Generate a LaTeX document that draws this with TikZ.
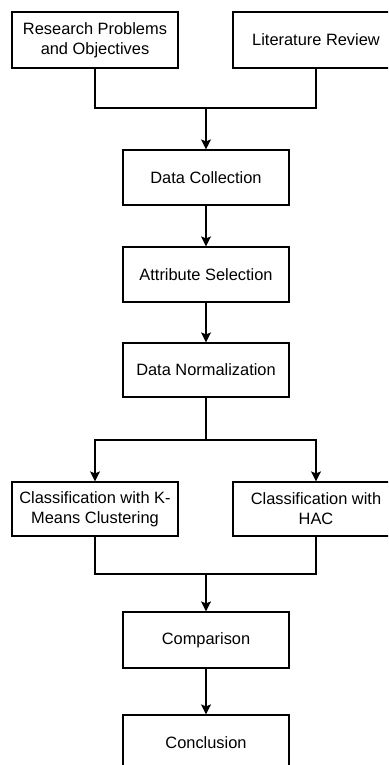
\documentclass[tikz,border=0pt]{standalone}
\usepackage{fontspec}
\setmainfont{Liberation Sans}
\usetikzlibrary{arrows.meta}
\begin{document}
\begin{tikzpicture}[x=1pt,y=-1pt,
  box/.style={draw, line width=1.2pt, minimum width=166pt, minimum height=55pt, inner sep=0pt, align=center, font=\fontsize{16.4}{20}\selectfont},
  conn/.style={line width=1.2pt},
  arr/.style={conn,-{Stealth[length=10pt,width=10pt,inset=2pt]}}]
\useasboundingbox (0,0) rectangle (388,765);
\clip (0,0) rectangle (388,765);
\node[box, minimum height=56pt] (rp) at (95,40) {Research Problems\\and Objectives};
\node[box, minimum height=56pt] (lr) at (316,40) {Literature Review};
\node[box] (dc) at (206,177.5) {Data Collection};
\node[box] (as) at (206,274.5) {Attribute Selection};
\node[box, minimum height=54pt] (dn) at (206,370) {Data Normalization};
\node[box, minimum height=54pt] (km) at (95,509) {Classification with K-\\Means Clustering};
\node[box, minimum height=54pt] (hac) at (316,509) {Classification with\\HAC};
\node[box, minimum height=56pt] (cmp) at (206,640) {Comparison};
\node[box] (con) at (206,742.5) {Conclusion};
\coordinate (j1) at (206,108);
\coordinate (j2) at (206,440);
\coordinate (j3) at (206,574);
\draw[conn] (rp.south) |- (j1) -| (lr.south);
\draw[arr] (j1) -- (dc.north);
\draw[arr] (dc.south) -- (as.north);
\draw[arr] (as.south) -- (dn.north);
\draw[conn] (dn.south) -- (j2);
\draw[arr] (j2) -| (km.north);
\draw[arr] (j2) -| (hac.north);
\draw[conn] (km.south) |- (j3) -| (hac.south);
\draw[arr] (j3) -- (cmp.north);
\draw[arr] (cmp.south) -- (con.north);
\end{tikzpicture}
\end{document}
